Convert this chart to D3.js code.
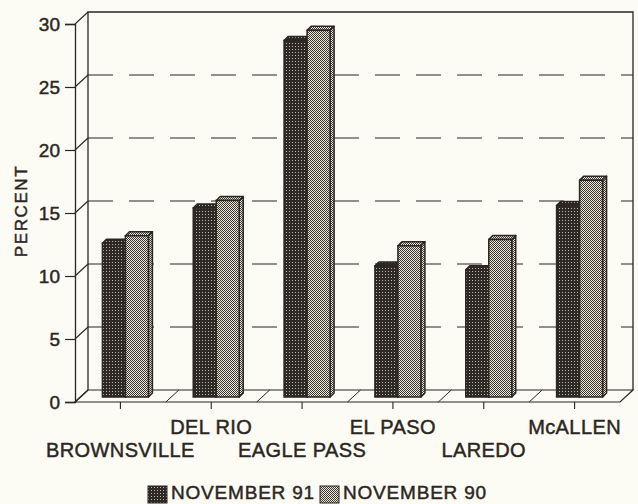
<!DOCTYPE html>
<html><head><meta charset="utf-8">
<script src="https://cdn.jsdelivr.net/npm/d3@7"></script>
<style>
html,body{margin:0;padding:0;background:#fcfbf4;}
svg{display:block;}
text{font-family:"Liberation Sans",Arial,sans-serif;fill:#2b2622;stroke:#2b2622;stroke-width:0.45px;}
</style></head>
<body><svg id="c" width="638" height="504"></svg>
<script>
const categories = ["BROWNSVILLE","DEL RIO","EAGLE PASS","EL PASO","LAREDO","McALLEN"];
const nov91 = [12.2, 15.0, 28.3, 10.4, 10.1, 15.2];
const nov90 = [12.8, 15.6, 29.1, 12.0, 12.5, 17.2];
const seriesNames = ["NOVEMBER 91","NOVEMBER 90"];
const yTicks = [0,5,10,15,20,25,30];

const svg = d3.select("#c");
const ink = "#2b2622";
const W0 = 75, W1 = 620, Y0 = 402, Y1 = 24;
const DX = 13, DY = -12; // depth of plot
const y = d3.scaleLinear().domain([0,30]).range([Y0,Y1]);
const x = d3.scaleBand().domain(categories).range([W0,W1]);

// patterns
const defs = svg.append("defs");
const pd = defs.append("pattern").attr("id","pDark").attr("width",3).attr("height",3).attr("patternUnits","userSpaceOnUse");
pd.append("rect").attr("width",3).attr("height",3).attr("fill","#2e2924");
pd.append("rect").attr("x",1).attr("y",1).attr("width",1).attr("height",1).attr("fill","#bdb8ad");
const pl = defs.append("pattern").attr("id","pLight").attr("width",2).attr("height",2).attr("patternUnits","userSpaceOnUse");
pl.append("rect").attr("width",2).attr("height",2).attr("fill","#ece8dc");
pl.append("rect").attr("x",0).attr("y",0).attr("width",1).attr("height",1).attr("fill","#3a352f");
pl.append("rect").attr("x",1).attr("y",1).attr("width",1).attr("height",1).attr("fill","#3a352f");

const g = svg.append("g");
// back wall gridlines (dashed)
yTicks.filter(t=>t>0 && t<30).forEach(t=>{
  g.append("line").attr("x1",W0+DX).attr("x2",W1+DX).attr("y1",y(t)+DY).attr("y2",y(t)+DY)
   .attr("stroke",ink).attr("stroke-width",1.1).attr("stroke-dasharray","25,16");
});
// back wall frame
g.append("path").attr("d",`M${W0+DX},${Y0+DY}V${Y1+DY}H${W1+DX}V${Y0+DY}`)
 .attr("fill","none").attr("stroke",ink).attr("stroke-width",1.3);
// floor
g.append("path").attr("d",`M${W0},${Y0}L${W0+DX},${Y0+DY}H${W1+DX}L${W1},${Y0}Z`)
 .attr("fill","none").attr("stroke",ink).attr("stroke-width",1.2);
// floor dividers
categories.forEach((c,i)=>{ if(i>0){ const xx=x(c);
  g.append("line").attr("x1",xx).attr("y1",Y0).attr("x2",xx+DX).attr("y2",Y0+DY).attr("stroke",ink).attr("stroke-width",1);
}});
// left wall connectors
yTicks.forEach(t=>{
  g.append("line").attr("x1",W0).attr("y1",y(t)).attr("x2",W0+DX).attr("y2",y(t)+DY).attr("stroke",ink).attr("stroke-width",1.1);
});
// front y axis
const yAxis = d3.axisLeft(y).tickValues(yTicks).tickSize(10).tickPadding(5);
const ya = svg.append("g").attr("transform",`translate(${W0},0)`).call(yAxis);
ya.select(".domain").attr("stroke",ink).attr("stroke-width",1.3);
ya.selectAll(".tick line").attr("stroke",ink).attr("stroke-width",1.2);
ya.selectAll(".tick text").attr("font-size",19).attr("font-family",null).style("fill",ink).attr("dy","0.36em");

// x axis ticks and labels
const xa = svg.append("g").attr("transform",`translate(0,${Y0})`)
  .call(d3.axisBottom(x).tickSize(7).tickFormat(""));
xa.select(".domain").remove();
xa.selectAll(".tick line").attr("stroke",ink).attr("stroke-width",1.1);
categories.forEach((c,i)=>{
  svg.append("text").attr("x",x(c)+x.bandwidth()/2).attr("y", i%2===0 ? 457 : 434)
    .attr("text-anchor","middle").attr("font-size",20).attr("letter-spacing","0.4px").text(c);
});

// bars
const bw = 23, bd = 4, off = 5;
function bar(x0, v, fill){
  const top = y(v) - off, base = Y0 - off;
  const b = g.append("g");
  b.append("path").attr("d",`M${x0+bw},${top}L${x0+bw+bd},${top-bd}V${base-bd}L${x0+bw},${base}Z`)
   .attr("fill",fill).attr("stroke",ink).attr("stroke-width",1.5).attr("stroke-linejoin","round");
  b.append("path").attr("d",`M${x0},${top}L${x0+bd},${top-bd}H${x0+bw+bd}L${x0+bw},${top}Z`)
   .attr("fill",fill).attr("stroke",ink).attr("stroke-width",1.5).attr("stroke-linejoin","round");
  b.append("rect").attr("x",x0).attr("y",top).attr("width",bw).attr("height",base-top)
   .attr("fill",fill).attr("stroke",ink).attr("stroke-width",1.5);
}
categories.forEach((c,i)=>{
  const cx = x(c)+x.bandwidth()/2 + off;
  bar(cx-bw, nov91[i], "url(#pDark)");
  bar(cx, nov90[i], "url(#pLight)");
});

// y label
svg.append("text").attr("transform","translate(27,211) rotate(-90)").attr("text-anchor","middle")
  .attr("font-size",17).attr("letter-spacing","1.6px").text("PERCENT");

// legend
const lg = svg.append("g");
const legX = [148, 320];
seriesNames.forEach((s,i)=>{
  lg.append("rect").attr("x",legX[i]).attr("y",486).attr("width",19).attr("height",17)
    .attr("fill", i===0 ? "url(#pDark)" : "url(#pLight)").attr("stroke",ink).attr("stroke-width",1);
  lg.append("text").attr("x",legX[i]+23).attr("y",499).attr("font-size",19).attr("letter-spacing","0.8px").text(s);
});
</script></body></html>
